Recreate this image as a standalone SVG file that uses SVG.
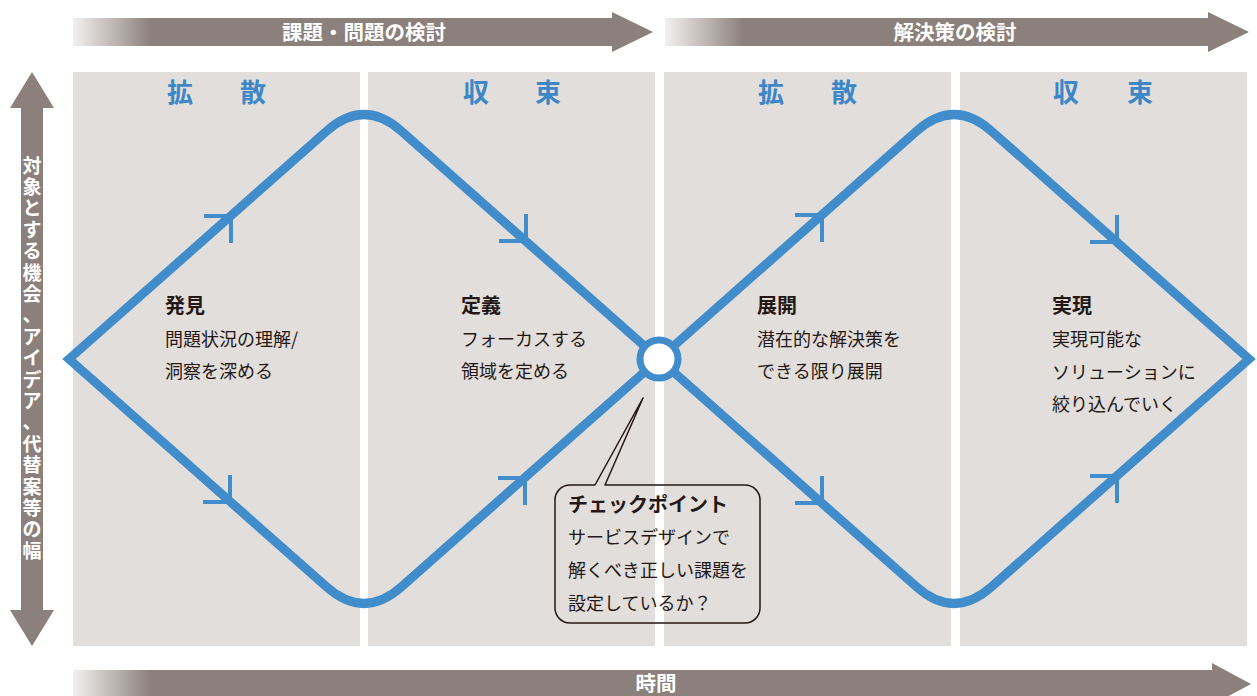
<svg xmlns="http://www.w3.org/2000/svg" width="1257" height="696" viewBox="0 0 1257 696">
<style>
.panel{fill:#e2dedb}
.arrow{fill:url(#gA)}
.lbl{font-family:"Noto Sans CJK JP","Noto Sans",sans-serif;fill:#fff;font-weight:bold;font-size:20.5px}
.vt{font-family:"Noto Sans CJK JP","Noto Sans",sans-serif;fill:#fff;font-weight:bold;font-size:19px}
.hd{font-family:"Noto Sans CJK JP","Noto Sans",sans-serif;fill:#3d87c6;font-weight:bold;font-size:26px}
.tt{font-family:"Noto Sans CJK JP","Noto Sans",sans-serif;fill:#231815;font-weight:bold;font-size:20px}
.tx{font-family:"Noto Sans CJK JP","Noto Sans",sans-serif;fill:#231815;font-size:18px}
.dia{fill:none;stroke:#418dcb;stroke-width:9;stroke-linejoin:miter;stroke-miterlimit:10}
.mk{fill:none;stroke:#418dcb;stroke-width:4}
</style>
<defs>
<linearGradient id="gA" x1="0" y1="0" x2="1" y2="0">
<stop offset="0" stop-color="#f3f1f0"/>
<stop offset="0.135" stop-color="#8b807b"/>
<stop offset="1" stop-color="#8b807b"/>
</linearGradient>
<linearGradient id="gB" x1="0" y1="0" x2="1" y2="0">
<stop offset="0" stop-color="#f3f1f0"/>
<stop offset="0.066" stop-color="#8b807b"/>
<stop offset="1" stop-color="#8b807b"/>
</linearGradient>
</defs>
<rect width="1257" height="696" fill="#ffffff"/>
<g id="panels">
<rect class="panel" x="73" y="72" width="287" height="574"/>
<rect class="panel" x="368" y="72" width="287" height="574"/>
<rect class="panel" x="664" y="72" width="287" height="574"/>
<rect class="panel" x="960" y="72" width="287" height="574"/>
</g>
<g id="arrow-top1">
<path class="arrow" d="M73,18 H612 V12 L653,32 L612,52 V46 H73 Z"/>
<text class="lbl" x="364" y="39.5" text-anchor="middle">課題・問題の検討</text>
</g>
<g id="arrow-top2">
<path class="arrow" d="M665,18 H1208 V12 L1249,32 L1208,52 V46 H665 Z"/>
<text class="lbl" x="955" y="39.5" text-anchor="middle">解決策の検討</text>
</g>
<g id="arrow-bottom">
<path fill="url(#gB)" d="M73,670 H1212 V663 L1251,684 L1212,705 V698 H73 Z"/>
<text class="lbl" x="656" y="691" text-anchor="middle">時間</text>
</g>
<g id="arrow-left">
<path fill="#8b807b" d="M32,72 L54,108 H43 V610 H54 L32,646 L10,610 H21 V108 H10 Z"/>
<text class="vt" text-anchor="middle"><tspan x="32" y="172.6">対</tspan><tspan x="32" dy="21.4">象</tspan><tspan x="32" dy="21.4">と</tspan><tspan x="32" dy="21.4">す</tspan><tspan x="32" dy="21.4">る</tspan><tspan x="32" dy="21.4">機</tspan><tspan x="32" dy="21.4">会</tspan><tspan x="32" dy="21.4">、</tspan><tspan x="32" dy="21.4">ア</tspan><tspan x="32" dy="21.4">イ</tspan><tspan x="32" dy="21.4">デ</tspan><tspan x="32" dy="21.4">ア</tspan><tspan x="32" dy="21.4">、</tspan><tspan x="32" dy="21.4">代</tspan><tspan x="32" dy="21.4">替</tspan><tspan x="32" dy="21.4">案</tspan><tspan x="32" dy="21.4">等</tspan><tspan x="32" dy="21.4">の</tspan><tspan x="32" dy="21.4">幅</tspan></text>
</g>
<g id="headers">
<text class="hd" y="102"><tspan x="167">拡</tspan><tspan x="240">散</tspan></text>
<text class="hd" y="102"><tspan x="463">収</tspan><tspan x="535">束</tspan></text>
<text class="hd" y="102"><tspan x="758">拡</tspan><tspan x="831">散</tspan></text>
<text class="hd" y="102"><tspan x="1053">収</tspan><tspan x="1127">束</tspan></text>
</g>
<g id="connectors">
<path class="dia" d="M69,359 L326.6,131.1 Q364,98 401.4,131.1 L659,359 L401.4,586.9 Q364,620 326.6,586.9 Z"/>
<path class="dia" d="M659,359 L916.6,131.1 Q954,98 991.4,131.1 L1249,359 L991.4,586.9 Q954,620 916.6,586.9 Z"/>
<path class="mk" d="M204,216 H231 V243"/>
<path class="mk" d="M499,241 H526 V214"/>
<path class="mk" d="M203,502 H230 V475"/>
<path class="mk" d="M498,478 H525 V505"/>
<path class="mk" d="M795,215 H822 V242"/>
<path class="mk" d="M1090,242 H1117 V215"/>
<path class="mk" d="M795,503 H822 V476"/>
<path class="mk" d="M1090,476 H1117 V503"/>
</g>
<g id="checkpoint">
<circle cx="659" cy="359" r="19" fill="#ffffff" stroke="#418dcb" stroke-width="7"/>
</g>
<g id="node-discover">
<text class="tt" x="165" y="313">発見</text>
<text class="tx" x="165" y="346">問題状況の理解/</text>
<text class="tx" x="165" y="378">洞察を深める</text>
</g>
<g id="node-define">
<text class="tt" x="461" y="313">定義</text>
<text class="tx" x="461" y="346">フォーカスする</text>
<text class="tx" x="461" y="378">領域を定める</text>
</g>
<g id="node-develop">
<text class="tt" x="757" y="313">展開</text>
<text class="tx" x="757" y="346">潜在的な解決策を</text>
<text class="tx" x="757" y="378">できる限り展開</text>
</g>
<g id="node-deliver">
<text class="tt" x="1052" y="313">実現</text>
<text class="tx" x="1052" y="346">実現可能な</text>
<text class="tx" x="1052" y="378.5">ソリューションに</text>
<text class="tx" x="1052" y="411">絞り込んでいく</text>
</g>
<g id="callout">
<path fill="none" stroke="#231815" stroke-width="1.5" stroke-linejoin="round" d="M605,485 H745 A15,15 0 0 1 760,500 V608 A15,15 0 0 1 745,623 H570 A15,15 0 0 1 555,608 V500 A15,15 0 0 1 570,485 H595 L643,398 Z"/>
<text class="tt" x="568" y="512">チェックポイント</text>
<text class="tx" x="568" y="544">サービスデザインで</text>
<text class="tx" x="568" y="577">解くべき正しい課題を</text>
<text class="tx" x="568" y="610">設定しているか？</text>
</g>
</svg>
